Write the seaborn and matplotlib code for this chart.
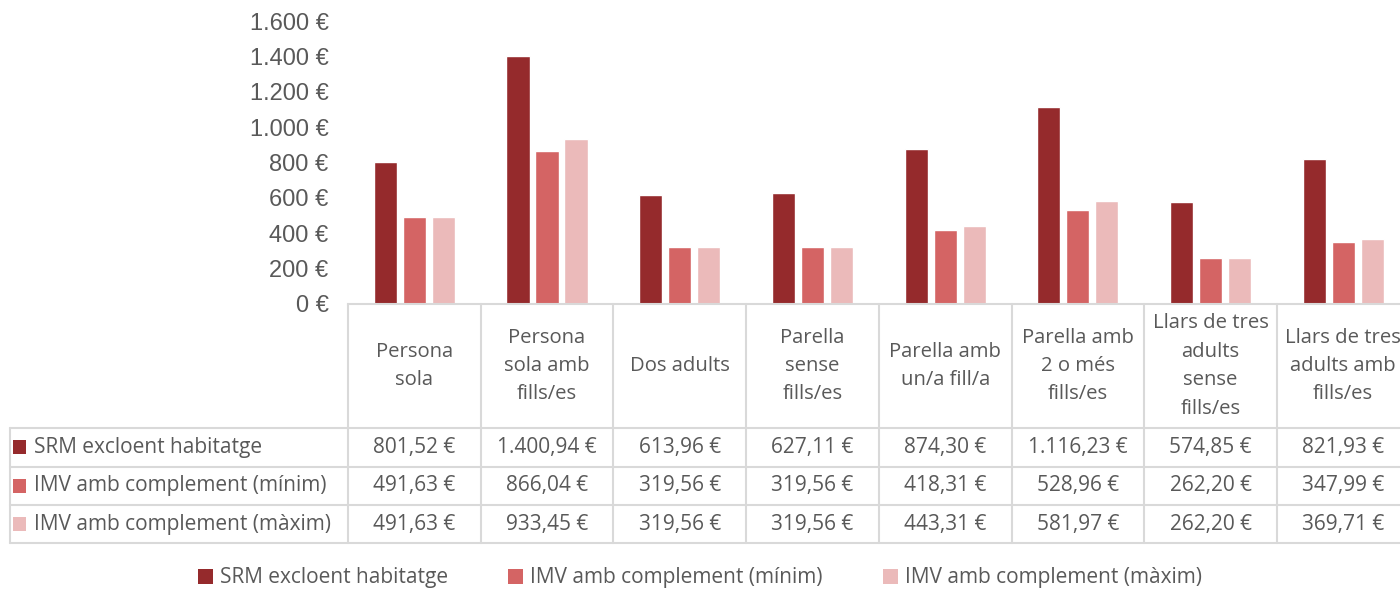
import matplotlib

matplotlib.use("Agg")
import matplotlib.pyplot as plt
import matplotlib.transforms as mtransforms
from matplotlib.lines import Line2D
from matplotlib.patches import Patch, Rectangle
import pandas as pd
import seaborn as sns

sns.set_theme(style="white")

# --- data -------------------------------------------------------------
categories = [
    "Persona\nsola",
    "Persona\nsola amb\nfills/es",
    "Dos adults",
    "Parella\nsense\nfills/es",
    "Parella amb\nun/a fill/a",
    "Parella amb\n2 o més\nfills/es",
    "Llars de tres\nadults\nsense\nfills/es",
    "Llars de tres\nadults amb\nfills/es",
]
series = [
    "SRM excloent habitatge",
    "IMV amb complement (mínim)",
    "IMV amb complement (màxim)",
]
srm = [801.52, 1400.94, 613.96, 627.11, 874.30, 1116.23, 574.85, 821.93]
imv_min = [491.63, 866.04, 319.56, 319.56, 418.31, 528.96, 262.20, 347.99]
imv_max = [491.63, 933.45, 319.56, 319.56, 443.31, 581.97, 262.20, 369.71]
y_ticks = [0, 200, 400, 600, 800, 1000, 1200, 1400, 1600]

colors = ["#952A2C", "#D46464", "#EBBABA"]
grid_col = "#D9D9D9"
text_col = "#595959"
table_font = "Open Sans"
fs = 15


def eur(v):
    s = f"{v:,.2f}".replace(",", "X").replace(".", ",").replace("X", ".")
    return s + " €"


df = pd.DataFrame({
    "categoria": categories * 3,
    "serie": [s for s in series for _ in categories],
    "valor": srm + imv_min + imv_max,
})

W, H = 1400, 589
fig = plt.figure(figsize=(W / 100, H / 100), dpi=100)


def fx(px):
    return px / W


def fy(py):
    return 1 - py / H


col_w = 132.7
left, top, bottom = 348, 21, 304
ax = fig.add_axes([fx(left), fy(bottom), 8 * col_w / W, (bottom - top) / H])

sns.barplot(data=df, x="categoria", y="valor", hue="serie", palette=colors,
            width=0.656, gap=0.2, saturation=1, legend=False, ax=ax)

ax.set_xlim(-0.5, 7.5)
ax.set_ylim(0, 1600)
ax.set_yticks(y_ticks)
ax.set_yticklabels([f"{v:,}".replace(",", ".") + " €" for v in y_ticks],
                   fontfamily="Liberation Sans", fontsize=17, color=text_col)
ax.tick_params(axis="y", length=0, pad=14)
ax.set_xticks([])
ax.set_xlabel("")
ax.set_ylabel("")
for side in ["left", "right", "top"]:
    ax.spines[side].set_visible(False)
ax.spines["bottom"].set_color(grid_col)
ax.spines["bottom"].set_linewidth(1.5)
ax.grid(False)

# --- data table under the axis -----------------------------------------
blend = mtransforms.blended_transform_factory(ax.transData, fig.transFigure)
row_lines = [428, 466.7, 505, 543.3]
table_bottom = row_lines[-1]

# vertical lines between the columns
for i in range(9):
    fig.add_artist(Line2D([i - 0.5, i - 0.5], [fy(bottom), fy(table_bottom)],
                          transform=blend, color=grid_col, lw=1.5))
# left border of label column
fig.add_artist(Line2D([fx(10), fx(10)], [fy(row_lines[0]), fy(table_bottom)],
                      transform=fig.transFigure, color=grid_col, lw=1.5))
# horizontal lines
for y in row_lines:
    fig.add_artist(Line2D([fx(10), fx(W + 20)], [fy(y), fy(y)],
                          transform=fig.transFigure, color=grid_col, lw=1.5))

# header cells
for i, cat in enumerate(categories):
    fig.text(i, fy((bottom + row_lines[0]) / 2), cat, transform=blend,
             ha="center", va="center", fontsize=14.6, color=text_col,
             family=table_font, linespacing=1.56)

# data rows
rows = [srm, imv_min, imv_max]
for r, (name, vals, c) in enumerate(zip(series, rows, colors)):
    yc = (row_lines[r] + row_lines[r + 1]) / 2
    fig.add_artist(Rectangle((fx(13), fy(yc + 7)), 13 / W, 14 / H,
                             transform=fig.transFigure, color=c, lw=0))
    fig.text(fx(34), fy(yc), name, ha="left", va="center", fontsize=fs,
             color=text_col, family=table_font)
    for i, v in enumerate(vals):
        fig.text(i, fy(yc), eur(v), transform=blend, ha="center", va="center",
                 fontsize=fs, color=text_col, family=table_font)

# --- legend -------------------------------------------------------------
handles = [Patch(facecolor=c, edgecolor="none") for c in colors]
leg = fig.legend(handles, series, loc="center", bbox_to_anchor=(0.5, fy(578)),
                 ncol=3, frameon=False, handlelength=0.7, handleheight=0.7,
                 handletextpad=0.35, columnspacing=2.9,
                 prop={"family": table_font, "size": fs})
for t in leg.get_texts():
    t.set_color(text_col)

fig.savefig("out.png", dpi=100, facecolor="white")
